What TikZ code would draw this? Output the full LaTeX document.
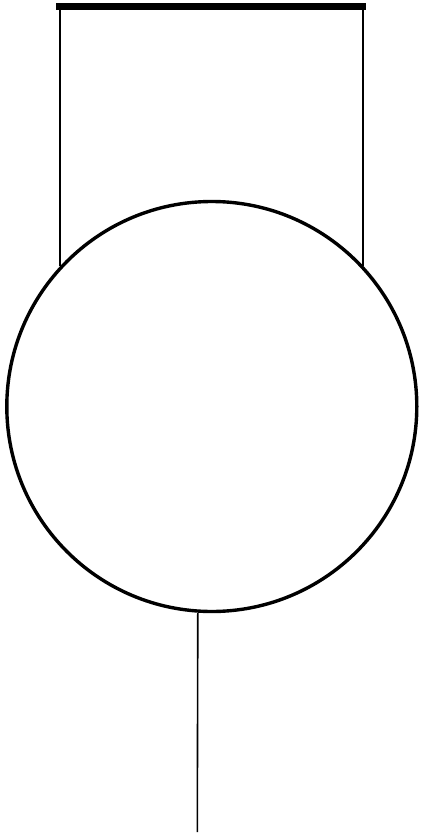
\documentclass[tikz,border=0pt]{standalone}
\begin{document}
\begin{tikzpicture}[x=1pt,y=-1pt,
  ring/.style={circle,draw=black,line width=3.4pt,minimum size=410pt,inner sep=0pt},
  rail/.style={line width=7pt,black},
  wire/.style={line width=1.6pt,black}]
\useasboundingbox (0,0) rectangle (424,840);
\node[ring] (c) at (211.8,406.5) {};
\coordinate (bl) at (56,6.5);
\coordinate (br) at (366,6.5);
\coordinate (tl) at (59.8,6.5);
\coordinate (tr) at (362.8,6.5);
\coordinate (hl) at (59.8,266);
\coordinate (hr) at (362.8,266);
\coordinate (e) at (197.3,832);
\draw[rail] (bl) -- (br);
\draw[wire] (tl) -- (hl);
\draw[wire] (tr) -- (hr);
\draw[wire] (c.south -| 197.8,0) -- (e);
\end{tikzpicture}
\end{document}
